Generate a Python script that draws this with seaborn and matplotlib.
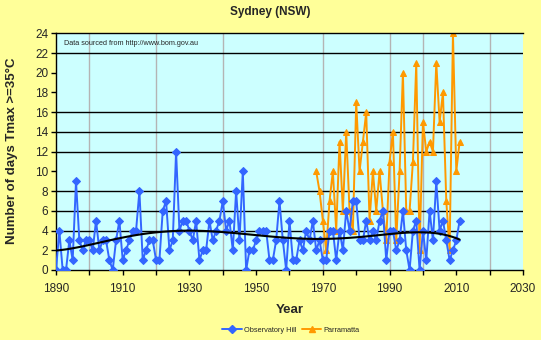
import numpy as np
import pandas as pd
import matplotlib
matplotlib.use("Agg")
import matplotlib.pyplot as plt
import seaborn as sns
from matplotlib.lines import Line2D

# ---------------- data ----------------
obs_years = list(range(1890, 2012))
obs_days = [
    0, 4, 0, 0, 3, 1, 9, 3, 2, 3,
    3, 2, 5, 2, 3, 3, 1, 0, 3, 5,
    1, 2, 3, 4, 4, 8, 1, 2, 3, 3,
    1, 1, 6, 7, 2, 3, 12, 4, 5, 5,
    4, 3, 5, 1, 2, 2, 5, 3, 4, 5,
    7, 4, 5, 2, 8, 3, 10, 0, 2, 2,
    3, 4, 4, 4, 1, 1, 3, 7, 3, 0,
    5, 1, 1, 3, 2, 4, 3, 5, 2, 3,
    1, 1, 4, 4, 1, 4, 2, 6, 4, 7,
    7, 3, 3, 5, 3, 4, 3, 5, 6, 1,
    4, 4, 2, 3, 6, 2, 0, 4, 5, 0,
    4, 1, 6, 3, 9, 4, 5, 3, 1, 2,
    3, 5,
]
par_years = list(range(1968, 2012))
par_days = [
    10, 8,
    5, 2, 7, 10, 4, 13, 6, 14, 6, 4,
    17, 10, 13, 16, 5, 10, 6, 10, 6, 3,
    11, 14, 3, 10, 20, 6, 6, 11, 21, 2,
    15, 12, 13, 12, 21, 15, 18, 7, 2, 24,
    10, 13,
]
series_names = ["Observatory Hill", "Parramatta"]
x_tick_labels = [1890, 1910, 1930, 1950, 1970, 1990, 2010, 2030]
y_tick_labels = [0, 2, 4, 6, 8, 10, 12, 14, 16, 18, 20, 22, 24]
title_text = "Sydney (NSW)"
x_title = "Year"
y_title = "Number of days Tmax >=35°C"
note_text = "Data sourced from http://www.bom.gov.au"
trend_order = 5

# visible gridlines in the reference picture
v_grid = [1900, 1920, 1940, 1970, 1990, 2000, 2020]
h_grid = [4, 6, 8, 12, 14, 16, 22]

# ---------------- style ----------------
sns.set_theme(style="white")
plt.rcParams["font.family"] = ["Liberation Sans", "DejaVu Sans"]

BG = "#FFFF99"
PLOT_BG = "#CCFFFF"
BLUE = "#3366FF"
ORANGE = "#FF9900"

W, H = 541, 340
fig = plt.figure(figsize=(W / 100, H / 100), dpi=100, facecolor=BG)
ax = fig.add_axes([56 / W, 1 - 270 / H, (523 - 56) / W, (270 - 33.3) / H])
ax.set_facecolor(PLOT_BG)

# gridlines
for gx in v_grid:
    ax.axvline(gx, color="#B4B4B4", lw=1.0, zorder=0.5)
for gy in h_grid:
    ax.axhline(gy, color="black", lw=1.0, zorder=0.6)

obs_df = pd.DataFrame({"Year": obs_years, "Days": obs_days})
par_df = pd.DataFrame({"Year": par_years, "Days": par_days})

sns.lineplot(data=obs_df, x="Year", y="Days", ax=ax, color=BLUE, lw=1.4,
             marker="D", markersize=3.8, markeredgecolor=BLUE, zorder=3)
sns.lineplot(data=par_df, x="Year", y="Days", ax=ax, color=ORANGE, lw=1.4,
             marker="^", markersize=4.4, markeredgecolor=ORANGE, zorder=2)

# polynomial trend line for Observatory Hill
poly = np.polynomial.Polynomial.fit(obs_years, obs_days, trend_order)
trend_df = pd.DataFrame({"Year": obs_years, "Trend": poly(np.array(obs_years))})
sns.lineplot(data=trend_df, x="Year", y="Trend", ax=ax, color="black", lw=1.5, zorder=4)

ax.set_xlim(1890, 2030)
ax.set_ylim(0, 24)
ax.set_xticks(list(range(1890, 2031, 10)))
ax.set_xticklabels([str(v) if v in x_tick_labels else "" for v in range(1890, 2031, 10)])
ax.set_yticks(y_tick_labels)
ax.set_yticklabels([str(v) for v in y_tick_labels])
ax.tick_params(axis="x", direction="out", length=3.5, width=1, color="black",
               labelsize=8.5, pad=6, bottom=True)
ax.tick_params(axis="y", direction="out", length=3.5, width=1, color="black",
               labelsize=8.5, pad=2, left=True)

for s in ["left", "bottom", "top"]:
    ax.spines[s].set_visible(True)
    ax.spines[s].set_color("black")
    ax.spines[s].set_linewidth(1.0)
ax.spines["right"].set_visible(False)

ax.set_xlabel("")
ax.set_ylabel("")

fig.text(0.5, 1 - 12 / H, title_text, ha="center", va="center",
         fontsize=8.5, fontweight="bold")
fig.text(289.5 / W, 1 - 310 / H, x_title, ha="center", va="center",
         fontsize=9.5, fontweight="bold")
fig.text(12 / W, 1 - 151 / H, y_title, ha="center", va="center",
         rotation=90, fontsize=9.5, fontweight="bold")
fig.text(64 / W, 1 - 43.5 / H, note_text, ha="left", va="center", fontsize=5.2)

handles = [
    Line2D([], [], color=BLUE, lw=1.4, marker="D", markersize=3.8),
    Line2D([], [], color=ORANGE, lw=1.4, marker="^", markersize=4.4),
]
fig.legend(handles, series_names, loc="center", ncol=2, frameon=False,
           bbox_to_anchor=(291 / W, 1 - 330 / H), fontsize=5.3,
           handlelength=2.6, handletextpad=0.3, columnspacing=0.8)

fig.savefig("out.png", dpi=100, facecolor=BG)
